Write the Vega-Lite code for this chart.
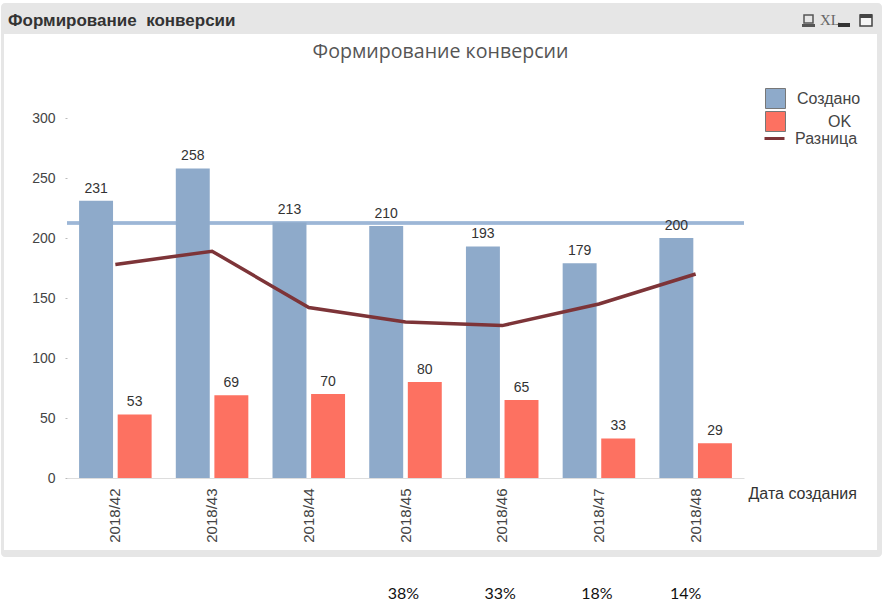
{
"$schema":"https://vega.github.io/schema/vega-lite/v6.json",
"width":677,"height":360,
"autosize":"none",
"padding":{"left":67,"top":118,"right":143,"bottom":137},
"background":"white",
"view":{"stroke":null},
"title":{"text":"Формирование конверсии","anchor":"middle","dx":35,"dy":64,"font":"Open Sans","fontSize":19.6,"fontWeight":"normal","color":"#555555"},
"datasets":{
"weeks":[
{"week":"2018/42","Создано":231,"OK":53,"Разница":178},
{"week":"2018/43","Создано":258,"OK":69,"Разница":189},
{"week":"2018/44","Создано":213,"OK":70,"Разница":142},
{"week":"2018/45","Создано":210,"OK":80,"Разница":130},
{"week":"2018/46","Создано":193,"OK":65,"Разница":127},
{"week":"2018/47","Создано":179,"OK":33,"Разница":145},
{"week":"2018/48","Создано":200,"OK":29,"Разница":170}],
"pct":[{"week":"2018/45","label":"38%"},{"week":"2018/46","label":"33%"},{"week":"2018/47","label":"18%"},{"week":"2018/48","label":"14%"}]
},
"resolve":{"scale":{"x":"independent","y":"independent","xOffset":"independent"},"axis":{"x":"independent","y":"independent"}},
"layer":[
{"data":{"values":[{"a":1}]},"mark":{"type":"rect","fill":"#e6e6e6","cornerRadius":4},
"encoding":{
"x":{"datum":1,"type":"quantitative","scale":{"domain":[67,744],"nice":false,"zero":false},"axis":null},
"x2":{"datum":882},
"y":{"datum":3,"type":"quantitative","scale":{"domain":[478,118],"nice":false,"zero":false},"axis":null},
"y2":{"datum":557}}},
{"data":{"values":[{"a":1}]},
"encoding":{
"x":{"type":"quantitative","scale":{"domain":[67,744],"nice":false,"zero":false},"axis":null},
"y":{"type":"quantitative","scale":{"domain":[478,118],"nice":false,"zero":false},"axis":null}},
"layer":[
{"mark":{"type":"rect","fill":"white"},"encoding":{"x":{"datum":4,"type":"quantitative"},"x2":{"datum":877},"y":{"datum":34,"type":"quantitative"},"y2":{"datum":550}}},
{"mark":{"type":"text","align":"left","baseline":"middle","font":"Liberation Sans","fontSize":17,"fontWeight":"bold","color":"#333333"},"encoding":{"x":{"datum":8,"type":"quantitative"},"y":{"datum":21,"type":"quantitative"},"text":{"value":"Формирование\u00a0 конверсии"}}},
{"mark":{"type":"text","align":"left","baseline":"middle","font":"Liberation Sans Narrow","fontSize":15,"color":"#666666"},"encoding":{"x":{"datum":820,"type":"quantitative"},"y":{"datum":20,"type":"quantitative"},"text":{"value":"XL"}}},
{"mark":{"type":"rect","fill":"#e6e6e6","stroke":"#555555","strokeWidth":1.5},"encoding":{"x":{"datum":804,"type":"quantitative"},"x2":{"datum":813},"y":{"datum":15,"type":"quantitative"},"y2":{"datum":23}}},
{"mark":{"type":"rect","fill":"#555555"},"encoding":{"x":{"datum":802,"type":"quantitative"},"x2":{"datum":815},"y":{"datum":24,"type":"quantitative"},"y2":{"datum":27}}},
{"mark":{"type":"rect","fill":"#333333"},"encoding":{"x":{"datum":838,"type":"quantitative"},"x2":{"datum":850},"y":{"datum":23,"type":"quantitative"},"y2":{"datum":27}}},
{"mark":{"type":"rect","fill":"#f5f5f5","stroke":"#444444","strokeWidth":1.5},"encoding":{"x":{"datum":860,"type":"quantitative"},"x2":{"datum":872},"y":{"datum":15,"type":"quantitative"},"y2":{"datum":26}}},
{"mark":{"type":"rect","fill":"#444444"},"encoding":{"x":{"datum":860,"type":"quantitative"},"x2":{"datum":872},"y":{"datum":14,"type":"quantitative"},"y2":{"datum":18}}}
]},
{"data":{"name":"weeks"},"mark":{"type":"rule","strokeWidth":2.5,"color":"#9db6d6"},
"encoding":{"y":{"datum":212.5,"type":"quantitative","scale":{"domain":[0,300]},"axis":null}}},
{"data":{"name":"weeks"},
"transform":[{"fold":["Создано","OK"],"as":["series","value"]}],
"mark":{"type":"bar"},
"encoding":{
"x":{"field":"week","type":"nominal","title":"Дата создания",
"scale":{"paddingInner":0.25,"paddingOuter":0.125},
"axis":{"zindex":1,"labelAngle":270,"labelFont":"Liberation Sans","labelFontSize":15,"labelColor":"#444444","labelPadding":10,"ticks":false,"domainColor":"#dddddd","titleFont":"Liberation Sans","titleFontSize":16,"titleFontWeight":"normal","titleColor":"#333333","titleX":681,"titleY":15,"titleAlign":"left","titleBaseline":"middle"}},
"xOffset":{"field":"series","type":"nominal","sort":["Создано","OK"],"scale":{"paddingInner":0.12,"paddingOuter":0}},
"y":{"field":"value","type":"quantitative","scale":{"domain":[0,300]},"title":null,
"axis":{"zindex":1,"values":[0,50,100,150,200,250,300],"grid":false,"domain":false,"tickSize":2,"tickColor":"#bbbbbb","labelFont":"Liberation Sans","labelFontSize":14,"labelColor":"#444444","labelPadding":10}},
"fill":{"field":"series","type":"nominal","scale":{"domain":["Создано","OK"],"range":["#8eaaca","#fd7161"]},
"legend":{"orient":"none","legendX":698,"legendY":-30,"title":null,"symbolType":"square","symbolSize":400,"symbolStrokeColor":"#777777","symbolStrokeWidth":1,"rowPadding":-14,"labelFont":"Liberation Sans","labelFontSize":16,"labelColor":"#444444","labelOffset":11,"encode":{"labels":{"update":{"dx":{"signal":"datum.label === 'OK' ? 31 : 0"}}}}}}}},
{"data":{"name":"weeks"},
"transform":[{"fold":["Создано","OK"],"as":["series","value"]}],
"mark":{"type":"text","baseline":"middle","dy":-12,"font":"Liberation Sans","fontSize":14,"color":"#333333"},
"encoding":{
"x":{"field":"week","type":"nominal","scale":{"paddingInner":0.25,"paddingOuter":0.125},"axis":null},
"xOffset":{"field":"series","type":"nominal","sort":["Создано","OK"],"scale":{"type":"band","paddingInner":0.12,"paddingOuter":0}},
"y":{"field":"value","type":"quantitative","scale":{"domain":[0,300]},"axis":null},
"text":{"field":"value","type":"quantitative"}}},
{"data":{"name":"weeks"},
"transform":[{"fold":["Разница"],"as":["series2","value"]}],
"mark":{"type":"line","strokeWidth":3.5},
"encoding":{
"x":{"field":"week","type":"nominal","scale":{"paddingInner":0.25,"paddingOuter":0.125},"axis":null},
"y":{"field":"value","type":"quantitative","scale":{"domain":[0,300]},"axis":null},
"stroke":{"field":"series2","type":"nominal","scale":{"domain":["Разница"],"range":["#7d3438"]},
"legend":{"orient":"none","legendX":696,"legendY":9,"title":null,"symbolType":"stroke","symbolStrokeWidth":3,"symbolSize":400,"labelFont":"Liberation Sans","labelFontSize":16,"labelColor":"#444444","labelOffset":9}}}},
{"data":{"name":"pct"},"mark":{"type":"text","font":"Lato","fontSize":16,"color":"#111111","baseline":"middle","dx":{"expr":"datum.label === '14%' ? -10 : -2"}},
"encoding":{
"x":{"field":"week","type":"nominal","scale":{"domain":["2018/42","2018/43","2018/44","2018/45","2018/46","2018/47","2018/48"],"paddingInner":0.25,"paddingOuter":0.125},"axis":null},
"y":{"datum":-97,"type":"quantitative","scale":{"domain":[0,300]},"axis":null},
"text":{"field":"label","type":"nominal"}}}
]
}
